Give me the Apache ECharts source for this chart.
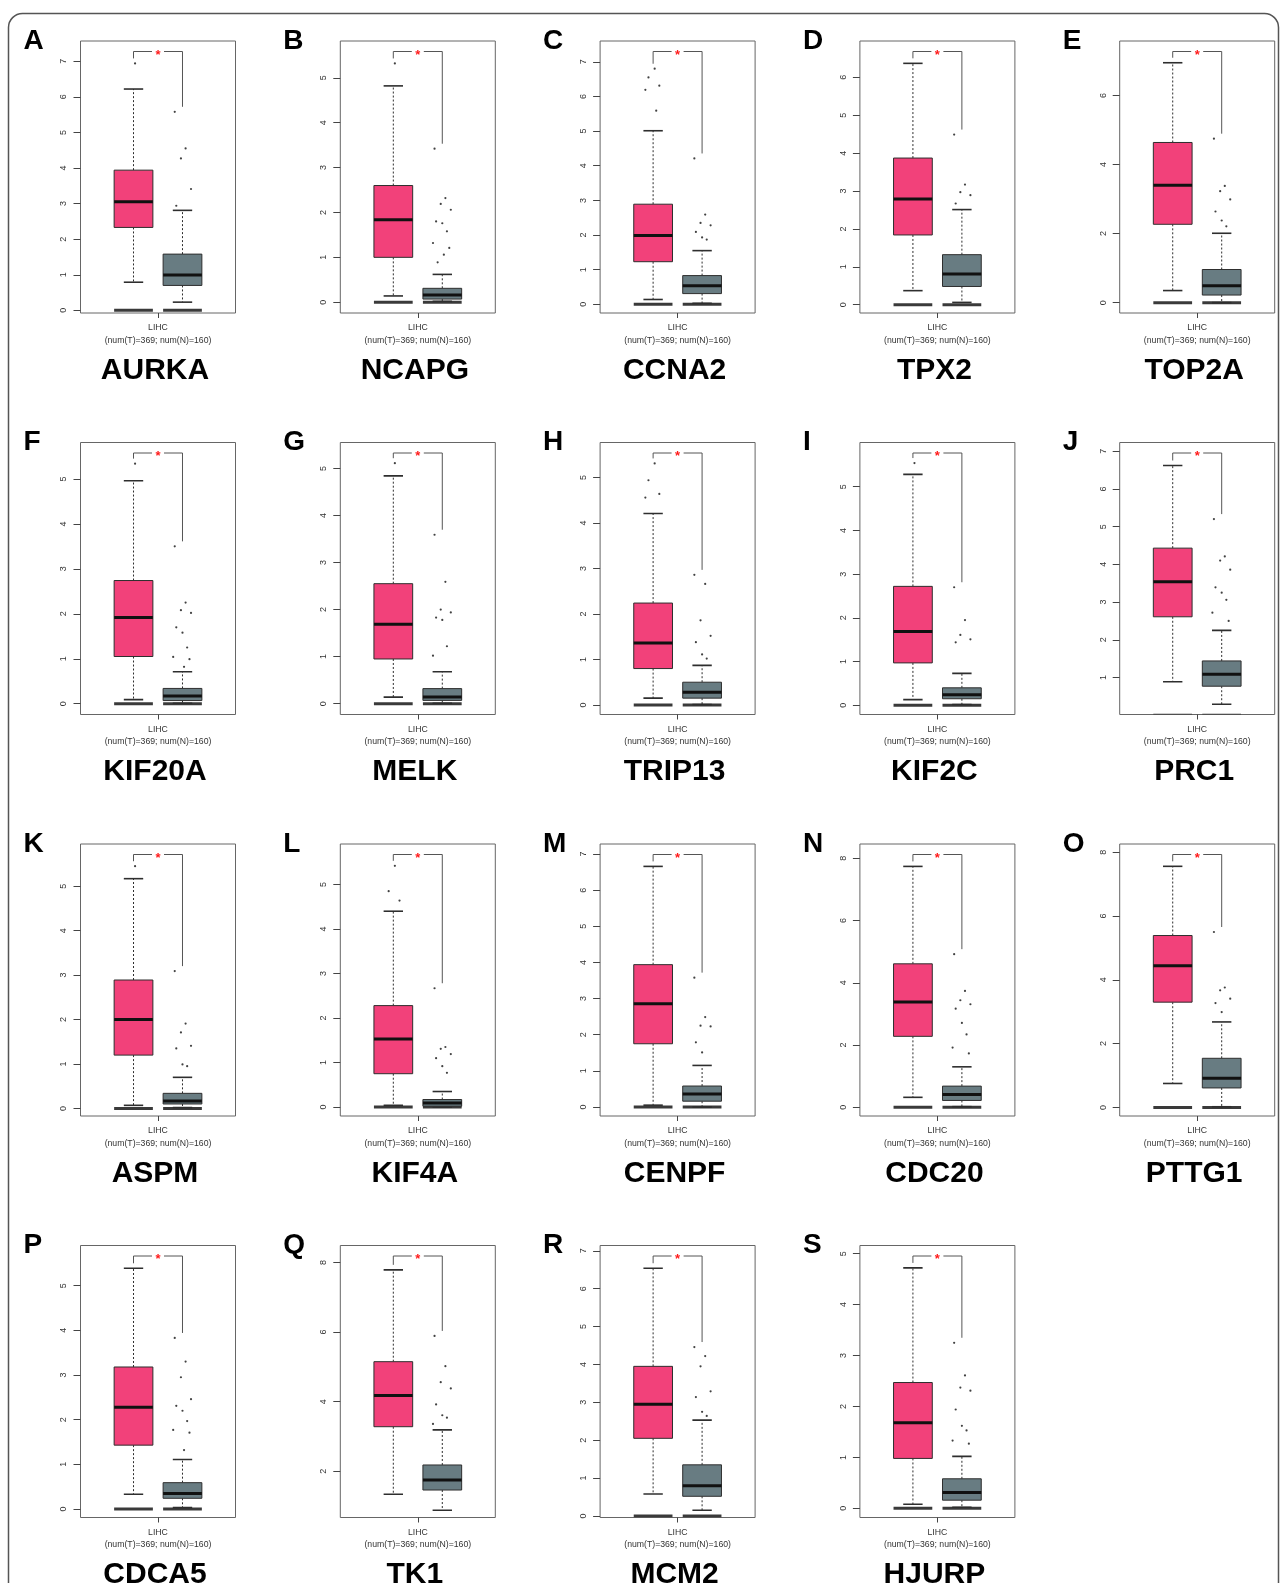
<!DOCTYPE html>
<html>
<head>
<meta charset="utf-8">
<script src="https://cdn.jsdelivr.net/npm/echarts@6/dist/echarts.min.js"></script>
<style>
  html, body { margin: 0; padding: 0; background: #ffffff; }
  #chart { width: 1282px; height: 1583px; }
</style>
</head>
<body>
<div id="chart"></div>
<script>
// ---------------- data ----------------
const letters = ['A','B','C','D','E','F','G','H','I','J','K','L','M','N','O','P','Q','R','S'];
const genes = ['AURKA','NCAPG','CCNA2','TPX2','TOP2A','KIF20A','MELK','TRIP13','KIF2C','PRC1',
               'ASPM','KIF4A','CENPF','CDC20','PTTG1','CDCA5','TK1','MCM2','HJURP'];
const cohortLabel = 'LIHC';
const countLabel = '(num(T)=369; num(N)=160)';

// axis extents of each panel
const yMin = [-0.075,-0.24,-0.25,-0.22,-0.30,-0.24,-0.23,-0.21,-0.21, 0.02,
              -0.17,-0.20,-0.25,-0.28,-0.27,-0.19, 0.67,-0.04,-0.18];
const yMax = [7.57, 5.82, 7.60, 6.96, 7.58, 5.81, 5.55, 5.77, 6.01, 7.23,
              5.95, 5.91, 7.28, 8.46, 8.26, 5.90, 8.49, 7.14, 5.16];
const yTicks = [
  [0,1,2,3,4,5,6,7],[0,1,2,3,4,5],[0,1,2,3,4,5,6,7],[0,1,2,3,4,5,6],[0,2,4,6],
  [0,1,2,3,4,5],[0,1,2,3,4,5],[0,1,2,3,4,5],[0,1,2,3,4,5],[1,2,3,4,5,6,7],
  [0,1,2,3,4,5],[0,1,2,3,4,5],[0,1,2,3,4,5,6,7],[0,2,4,6,8],[0,2,4,6,8],
  [0,1,2,3,4,5],[2,4,6,8],[0,1,2,3,4,5,6,7],[0,1,2,3,4,5]
];

// box statistics: [lower whisker, Q1, median, Q3, upper whisker]
const tumorStats = [
  [0.79,2.33,3.05,3.94,6.22],[0.14,1.00,1.84,2.60,4.82],[0.14,1.23,1.99,2.89,5.01],
  [0.37,1.84,2.79,3.87,6.37],[0.35,2.27,3.40,4.64,6.95],[0.09,1.05,1.92,2.74,4.96],
  [0.14,0.95,1.69,2.55,4.84],[0.15,0.80,1.36,2.24,4.21],[0.13,0.97,1.69,2.72,5.28],
  [0.89,2.61,3.54,4.43,6.62],[0.07,1.20,2.00,2.89,5.17],[0.04,0.75,1.53,2.28,4.40],
  [0.05,1.75,2.86,3.94,6.66],[0.32,2.28,3.38,4.61,7.74],[0.75,3.30,4.44,5.39,7.56],
  [0.33,1.43,2.28,3.18,5.39],[1.34,3.28,4.18,5.15,7.79],[0.58,2.05,2.95,3.95,6.54],
  [0.08,0.98,1.68,2.47,4.72]
];
const normalStats = [
  [0.23,0.70,0.99,1.58,2.81],[0.02,0.07,0.16,0.31,0.62],[0.03,0.31,0.54,0.83,1.55],
  [0.06,0.48,0.81,1.32,2.51],[0.00,0.22,0.49,0.96,2.01],[0.01,0.07,0.17,0.34,0.71],
  [0.01,0.07,0.14,0.32,0.68],[0.01,0.15,0.28,0.50,0.87],[0.02,0.15,0.24,0.40,0.73],
  [0.29,0.77,1.09,1.44,2.25],[0.02,0.10,0.17,0.34,0.70],[0.00,0.02,0.09,0.17,0.35],
  [0.00,0.16,0.36,0.58,1.15],[0.02,0.22,0.41,0.68,1.30],[0.02,0.61,0.91,1.54,2.68],
  [0.03,0.24,0.35,0.59,1.11],[0.88,1.46,1.75,2.18,3.19],[0.15,0.52,0.80,1.35,2.53],
  [0.02,0.16,0.31,0.58,1.02]
];

// points lying above the upper whiskers
const tumorOut = [
  [6.94],[5.32],[6.80,6.55,6.31,6.19,5.59],[],[],[5.34],[5.11],[5.31,4.94,4.64,4.56],[5.54],[],
  [5.45],[5.42,4.85,4.64],[],[],[],[],[],[],[]
];
const normalOut = [
  [5.58,4.55,4.27,3.41,2.94],
  [3.42,2.32,2.19,2.06,1.80,1.76,1.58,1.32,1.21,1.06,0.89],
  [4.21,2.59,2.35,2.28,2.09,1.93,1.87],
  [4.49,3.17,2.97,2.89,2.67],
  [4.75,3.38,3.23,2.99,2.64,2.38,2.21],
  [3.50,2.25,2.08,2.02,1.70,1.58,1.25,1.04,0.99,0.82],
  [3.59,2.59,2.00,1.94,1.83,1.78,1.22,1.02],
  [2.86,2.66,1.86,1.52,1.38,1.11,1.02],
  [2.70,1.95,1.61,1.51,1.44],
  [5.20,4.21,4.10,3.86,3.39,3.25,3.06,2.72,2.50],
  [3.09,1.91,1.71,1.41,1.35,0.99,0.95],
  [2.67,1.35,1.31,1.19,1.10,0.92,0.77],
  [3.58,2.49,2.25,2.23,1.79,1.51],
  [4.92,3.74,3.44,3.31,3.17,2.71,2.34,1.92,1.73],
  [5.50,3.76,3.67,3.41,3.27,2.99],
  [3.83,3.30,2.95,2.46,2.31,2.20,1.97,1.77,1.71,1.32],
  [5.89,5.02,4.56,4.38,3.92,3.61,3.54,3.36],
  [4.46,4.22,3.95,3.29,3.14,2.75,2.64],
  [3.25,2.61,2.37,2.31,1.94,1.62,1.53,1.33,1.27]
];

// ---------------- layout & style ----------------
const FONT = '"Liberation Sans", Arial, Helvetica, sans-serif';
const COLS = 5, LEFT0 = 80.5, DX = 259.8, TOP0 = 41, DY = 401.5, PW = 155, PH = 272;
const X_T = -0.316, X_N = 0.316, HALF = 0.25;
const T_COL = '#F2417A', N_COL = '#687C82';
const JIT = [0.02,-0.06,0.08,-0.10,0.04,-0.02,0.11,-0.08,0.0,0.06,-0.12,0.09];

const chart = echarts.init(document.getElementById('chart'), null, { renderer: 'canvas' });

const grids = [], xAxes = [], yAxes = [], series = [], graphics = [];

graphics.push({
  type: 'rect', left: 6, top: 11, z: 100,
  shape: { x: 0, y: 0, width: 1270, height: 1640, r: 14 },
  style: { fill: 'none', stroke: '#555', lineWidth: 1.5 }
});

function makeRender(p) {
  const maxT = Math.max(tumorStats[p][4], ...tumorOut[p]);
  const maxN = Math.max(normalStats[p][4], ...normalOut[p]);
  return function (params, api) {
    const x = api.value(0);
    const lo = api.value(1), q1 = api.value(2), md = api.value(3), q3 = api.value(4), hi = api.value(5);
    const isT = params.dataIndex === 0;
    const cx = api.coord([x, 0])[0];
    const hw = api.size([HALF, 0])[0];
    const Y = v => api.coord([x, v])[1];
    const dark = '#2e2e2e';
    const kids = [];
    // bar at zero
    kids.push({ type: 'line', shape: { x1: cx - hw, y1: Y(0), x2: cx + hw, y2: Y(0) },
      style: { stroke: '#3a3a3a', lineWidth: 3 } });
    // dashed whiskers
    kids.push({ type: 'line', shape: { x1: cx, y1: Y(q3), x2: cx, y2: Y(hi) },
      style: { stroke: dark, lineWidth: 1, lineDash: [2, 2] } });
    kids.push({ type: 'line', shape: { x1: cx, y1: Y(q1), x2: cx, y2: Y(lo) },
      style: { stroke: dark, lineWidth: 1, lineDash: [2, 2] } });
    // caps
    kids.push({ type: 'line', shape: { x1: cx - hw / 2, y1: Y(hi), x2: cx + hw / 2, y2: Y(hi) },
      style: { stroke: dark, lineWidth: 1.6 } });
    kids.push({ type: 'line', shape: { x1: cx - hw / 2, y1: Y(lo), x2: cx + hw / 2, y2: Y(lo) },
      style: { stroke: dark, lineWidth: 1.6 } });
    // box
    kids.push({ type: 'rect', shape: { x: cx - hw, y: Y(q3), width: 2 * hw, height: Y(q1) - Y(q3) },
      style: { fill: isT ? T_COL : N_COL, stroke: dark, lineWidth: 1 } });
    // median
    kids.push({ type: 'line', shape: { x1: cx - hw, y1: Y(md), x2: cx + hw, y2: Y(md) },
      style: { stroke: '#111', lineWidth: 3 } });
    if (isT) {
      const top = params.coordSys.y + 10.5;
      const xl = api.coord([X_T, 0])[0], xr = api.coord([X_N, 0])[0];
      const mid = (xl + xr) / 2;
      const br = { stroke: '#555', lineWidth: 1 };
      kids.push({ type: 'line', shape: { x1: xl, y1: top, x2: xl, y2: Y(maxT) - 5 }, style: br });
      kids.push({ type: 'line', shape: { x1: xr, y1: top, x2: xr, y2: Y(maxN) - 5 }, style: br });
      kids.push({ type: 'line', shape: { x1: xl, y1: top, x2: mid - 6, y2: top }, style: br });
      kids.push({ type: 'line', shape: { x1: mid + 6, y1: top, x2: xr, y2: top }, style: br });
      kids.push({ type: 'text', style: { text: '*', x: mid, y: top + 3.5, fill: '#ff1a1a',
        fontSize: 13, fontWeight: 'bold', fontFamily: FONT, align: 'center', verticalAlign: 'middle' } });
    }
    return { type: 'group', children: kids };
  };
}

for (let p = 0; p < genes.length; p++) {
  const col = p % COLS, row = Math.floor(p / COLS);
  const L = LEFT0 + DX * col, T = TOP0 + DY * row;
  grids.push({ left: L, top: T, width: PW, height: PH, show: true,
    borderColor: '#666', borderWidth: 1, backgroundColor: 'transparent',
    containLabel: false, outerBoundsMode: 'none' });
  xAxes.push({
    gridIndex: p, type: 'value', min: -1, max: 1, position: 'bottom',
    axisLine: { show: false, onZero: false }, splitLine: { show: false },
    axisTick: { show: true, length: 5, customValues: [0], lineStyle: { color: '#444' } },
    axisLabel: { show: true, customValues: [0], formatter: () => cohortLabel + '\n' + countLabel,
      fontSize: 8.7, lineHeight: 12.7, color: '#333', margin: 8.5, fontFamily: FONT }
  });
  yAxes.push({
    gridIndex: p, type: 'value', min: yMin[p], max: yMax[p], position: 'left',
    axisLine: { show: false, onZero: false }, splitLine: { show: false },
    axisTick: { show: true, length: 7, customValues: yTicks[p], lineStyle: { color: '#444' } },
    axisLabel: { show: true, customValues: yTicks[p], rotate: 90, fontSize: 9, color: '#333',
      margin: 12, fontFamily: FONT }
  });
  series.push({
    type: 'custom', xAxisIndex: p, yAxisIndex: p, clip: true, z: 2, silent: true,
    renderItem: makeRender(p),
    encode: { x: 0, y: [1, 2, 3, 4, 5] },
    data: [[X_T].concat(tumorStats[p]), [X_N].concat(normalStats[p])]
  });
  const pts = tumorOut[p].map((v, k) => [X_T + JIT[k % JIT.length], v])
    .concat(normalOut[p].map((v, k) => [X_N + JIT[(k + 3) % JIT.length], v]));
  series.push({
    type: 'scatter', xAxisIndex: p, yAxisIndex: p, z: 3, silent: true,
    symbol: 'circle', symbolSize: 2.2, itemStyle: { color: '#111' }, data: pts
  });
  graphics.push({ type: 'text', left: L - 57, top: T - 14,
    style: { text: letters[p], fontSize: 28, fontWeight: 'bold', fontFamily: FONT, fill: '#000' } });
  graphics.push({ type: 'text', x: L + PW / 2 - 3, y: T + 329.5,
    style: { text: genes[p], fontSize: 30, fontWeight: 'bold', fontFamily: FONT, fill: '#000',
      align: 'center', verticalAlign: 'middle' } });
}

chart.setOption({
  animation: false,
  backgroundColor: '#ffffff',
  grid: grids, xAxis: xAxes, yAxis: yAxes, series: series, graphic: graphics
});
</script>
</body>
</html>
